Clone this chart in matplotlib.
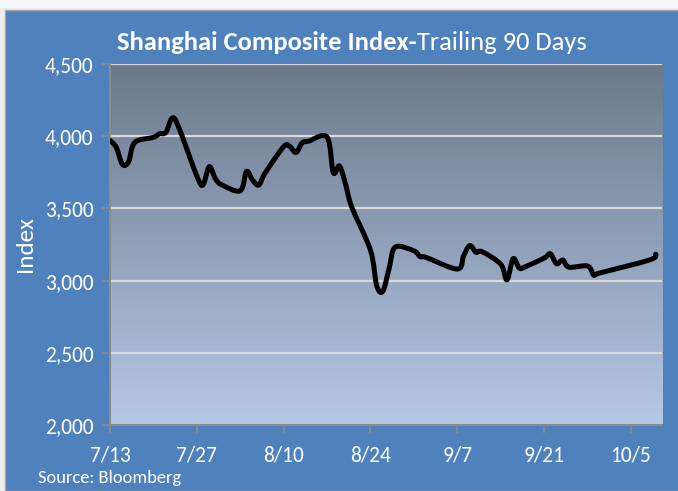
import matplotlib
matplotlib.use("Agg")
import matplotlib.pyplot as plt
import matplotlib.dates as mdates
from matplotlib.path import Path
from matplotlib.patches import PathPatch, Rectangle
import numpy as np
import datetime as dt

plt.rcParams['font.family'] = ['Carlito', 'Lato', 'DejaVu Sans']

# ---- data ----
dates = ["7/13", "7/14", "7/15", "7/16", "7/17", "7/20", "7/21", "7/22", "7/23", "7/24",
         "7/27", "7/28", "7/29", "7/30", "7/31", "8/3", "8/4", "8/5", "8/6", "8/7",
         "8/10", "8/11", "8/12", "8/13", "8/14", "8/17", "8/18", "8/19", "8/20", "8/21",
         "8/24", "8/25", "8/26", "8/27", "8/28", "8/31", "9/1", "9/2", "9/7", "9/8",
         "9/9", "9/10", "9/11", "9/14", "9/15", "9/16", "9/17", "9/18", "9/21", "9/22",
         "9/23", "9/24", "9/25", "9/28", "9/29", "9/30", "10/8", "10/9"]
values = [3970, 3924, 3805, 3823, 3957, 3992, 4017, 4026, 4124, 4070,
          3725, 3663, 3789, 3705, 3664, 3622, 3756, 3695, 3662, 3744,
          3928, 3928, 3887, 3955, 3965, 3993, 3748, 3794, 3664, 3507,
          3210, 2965, 2927, 3084, 3232, 3206, 3166, 3160, 3080, 3170,
          3243, 3197, 3200, 3114, 3005, 3152, 3086, 3097, 3156, 3186,
          3116, 3143, 3093, 3101, 3039, 3053, 3143, 3183]
xtick_labels = ["7/13", "7/27", "8/10", "8/24", "9/7", "9/21", "10/5"]
ytick_values = [2000, 2500, 3000, 3500, 4000, 4500]
year = 2015

title_bold = "Shanghai Composite Index-"
title_rest = "Trailing 90 Days"
ylabel = "Index"
source = "Source: Bloomberg"


def to_num(s):
    m, d = s.split("/")
    return mdates.date2num(dt.date(year, int(m), int(d)))


W, H = 678, 491
fig = plt.figure(figsize=(W / 100, H / 100), dpi=100, facecolor="white")

# background frame
fig.patches.append(Rectangle((0, 0), 1, 1, transform=fig.transFigure,
                             facecolor="#EDEDED", edgecolor="none", zorder=-5))
fig.patches.append(Rectangle((5 / W, 0), 1, (H - 10) / H, transform=fig.transFigure,
                             facecolor="#4F81BD", edgecolor="#A6A6A6", lw=1.0, zorder=-4))
fig.patches.append(Rectangle((0, (H - 8) / H), 1, 8 / H, transform=fig.transFigure,
                             facecolor="#F7F7F7", edgecolor="none", zorder=-4))

ax = fig.add_axes([110 / W, (H - 425) / H, (662 - 110) / W, (425 - 64) / H])
ax.set_facecolor("none")

# gradient plot area
top = np.array([108, 121, 139]) / 255
bot = np.array([181, 200, 230]) / 255
t = np.linspace(0, 1, 256)[:, None]
grad = top[None, :] * (1 - t) + bot[None, :] * t
ax.imshow(grad[:, None, :], extent=[0, 1, 0, 1], transform=ax.transAxes,
          aspect="auto", zorder=-2, interpolation="bilinear")

xs = np.array([to_num(s) for s in dates])
ys = np.array(values, dtype=float)

# smoothed line (Catmull-Rom style Bezier, like a spreadsheet "smoothed line")
pts = np.column_stack([xs, ys])
verts = [pts[0]]
codes = [Path.MOVETO]
n = len(pts)
for i in range(n - 1):
    p0 = pts[i - 1] if i > 0 else pts[i]
    p1 = pts[i]
    p2 = pts[i + 1]
    p3 = pts[i + 2] if i + 2 < n else pts[i + 1]
    c1 = p1 + (p2 - p0) / 6.0
    c2 = p2 - (p3 - p1) / 6.0
    verts += [c1, c2, p2]
    codes += [Path.CURVE4] * 3
ax.add_patch(PathPatch(Path(verts, codes), facecolor="none", edgecolor="black",
                       lw=3.6, capstyle="round", joinstyle="round", zorder=3))

xticks = [to_num(s) for s in xtick_labels]
ax.set_xlim(to_num("7/13"), to_num("10/10"))
ax.set_ylim(ytick_values[0], ytick_values[-1])
ax.set_xticks(xticks)
ax.set_xticklabels(xtick_labels)
ax.set_yticks(ytick_values)
ax.set_yticklabels([f"{v:,}" for v in ytick_values])

ax.yaxis.grid(True, color="#D9D9D9", lw=1.6, zorder=1)
ax.set_axisbelow(True)
for s in ["top", "right"]:
    ax.spines[s].set_visible(False)
for s in ["left", "bottom"]:
    ax.spines[s].set_color("#8C8C8C")
    ax.spines[s].set_linewidth(1.5)
ax.tick_params(axis="both", colors="#8C8C8C", length=6, width=1.2,
               labelcolor="white", labelsize=15.5)
ax.tick_params(axis="x", pad=9)
ax.tick_params(axis="y", pad=6)

fig.text(25 / W, 1 - 244 / H, ylabel, rotation=90, color="white", fontsize=18,
         ha="center", va="center")
fig.text(38 / W, 1 - 478 / H, source, color="white", fontsize=13.3,
         ha="left", va="center")

# title in two weights, fitted to the reference width
renderer = fig.canvas.get_renderer()
fs = 15
t1 = fig.text(117 / W, 1 - 43 / H, title_bold, color="white", fontsize=fs,
              fontweight="bold", ha="left", va="center")
t2 = fig.text(0, 1 - 43 / H, title_rest, color="white", fontsize=fs,
              ha="left", va="center")
w1 = t1.get_window_extent(renderer).width
w2 = t2.get_window_extent(renderer).width
scale = 471 / (w1 + w2)
t1.set_fontsize(fs * scale)
t2.set_fontsize(fs * scale)
w1 = t1.get_window_extent(renderer).width
t2.set_x((117 + w1) / W)

fig.savefig("out.png", dpi=100, facecolor=fig.get_facecolor())
